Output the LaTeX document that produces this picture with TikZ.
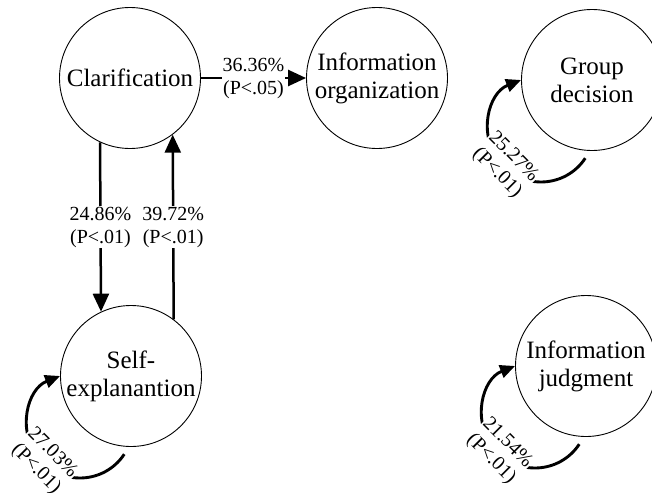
\documentclass[tikz,border=0pt]{standalone}
\usepackage{fontspec}
\setmainfont{Liberation Serif}
\usetikzlibrary{arrows.meta,calc}
\begin{document}
\begin{tikzpicture}[x=1pt,y=-1pt,
  state/.style={circle,draw,line width=0.9pt,minimum size=141pt,inner sep=0pt,align=center,font=\fontsize{25}{28}\selectfont},
  flow/.style={line width=2.5pt,-{Triangle[length=18pt,width=16pt]}},
  loopflow/.style={line width=2.9pt,-{Triangle[length=15pt,width=13pt]}},
  lbl/.style={fill=white,inner sep=1pt,align=center,font=\fontsize{20}{23}\selectfont}]
\useasboundingbox (0,0) rectangle (652,493);
\node[state] (cla) at (130,78) {Clarification};
\node[state] (org) at (377,78) {Information\\organization};
\node[state] (grp) at (592,80) {Group\\decision};
\node[state] (sel) at (131,376) {Self-\\explanantion};
\node[state] (jud) at (586,366) {Information\\judgment};

\draw[flow] (cla) -- node[lbl]{36.36\%\\(P<.05)} (org);
\draw[flow] (cla.245) -- node[lbl]{24.86\%\\(P<.01)} (sel.115.9);
\draw[flow] (sel.53.4) -- node[lbl]{39.72\%\\(P<.01)} (cla.307.6);

\foreach \n/\t in {sel/27.03, grp/25.27, jud/21.54}{
  \draw[loopflow] ($(\n)+(-6.75,78.17)$) .. controls ($(\n)+(-26.46,108.06)$) and ($(\n)+(-69.55,110.21)$) .. ($(\n)+(-92.13,82.43)$) .. controls ($(\n)+(-114.71,54.65)$) and ($(\n)+(-103.8,12.9)$) .. (\n.west);
  \node[lbl,rotate=-45] at ($(\n)+(-87,85)$) {\t\%\\(P<.01)};
}
\end{tikzpicture}
\end{document}
